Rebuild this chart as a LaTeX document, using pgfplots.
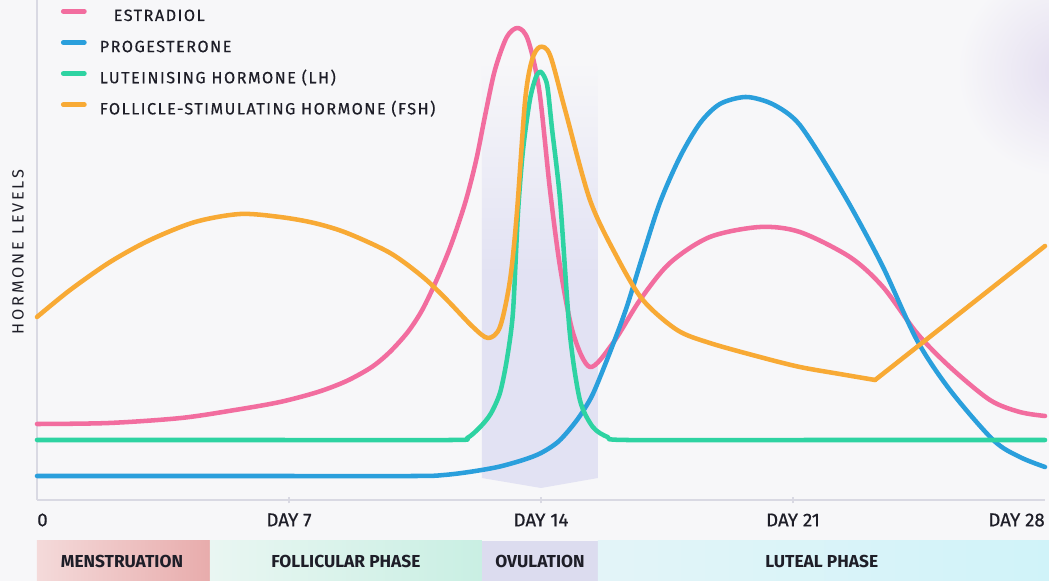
\documentclass[border=0pt]{standalone}
\usepackage{fontspec}
\setmainfont{Fira Sans}
\newfontfamily\spaced[LetterSpace=9, FakeBold=0.4]{Fira Sans}
\newfontfamily\spacedwide[LetterSpace=17]{Fira Sans}
\newfontfamily\medium[FakeBold=0.6]{Fira Sans}
\usepackage{pgfplots}
\pgfplotsset{compat=1.18}

% colours
\definecolor{bg}{HTML}{F7F7F9}
\definecolor{axisgray}{HTML}{D9D9E3}
\definecolor{ink}{HTML}{1E1E28}
\definecolor{estr}{HTML}{F26D9F}
\definecolor{prog}{HTML}{2A9FDC}
\definecolor{lh}{HTML}{2ED3A2}
\definecolor{fsh}{HTML}{F8AA35}
\definecolor{band}{HTML}{E2E2F3}
\definecolor{glow}{HTML}{E4DEF0}
\definecolor{mensA}{HTML}{F4DADA}
\definecolor{mensB}{HTML}{E8ACAC}
\definecolor{follA}{HTML}{E9F6F2}
\definecolor{follB}{HTML}{C9EFE3}
\definecolor{ovul}{HTML}{DCDCEF}
\definecolor{lutA}{HTML}{E3F4F8}
\definecolor{lutB}{HTML}{D0F3F9}

\begin{document}
\begin{tikzpicture}
% 1 px of the reference = 0.75pt; axis box is 1008 x 500 px
\fill[bg] (-27.75pt,-60.75pt) rectangle (759pt,375pt);
\begin{scope}
  \clip (-27.75pt,-60.75pt) rectangle (759pt,375pt);
  \shade[inner color=glow, outer color=bg] (770pt,322pt) circle (80pt);
\end{scope}

\begin{axis}[
    scale only axis,
    width=756pt, height=375pt,
    xmin=0, xmax=28, ymin=0, ymax=500,
    clip=false,
    axis x line=bottom, axis y line=left,
    axis line style={-, color=axisgray, line width=0.9pt},
    xtick={7,14,21}, xticklabels={},
    ytick=\empty,
    major tick length=5pt,
    tick style={color=axisgray, line width=0.9pt},
    legend style={at={(rel axis cs:0,1)}, anchor=north west,
        xshift=14.75pt, yshift=-4.5pt,
        draw=none, fill=none,
        font=\spaced\fontsize{12.2}{14}\selectfont\color{ink},
        nodes={inner sep=0pt, text height=8.5pt, text depth=0pt},
        row sep=14.3pt, column sep=9.75pt},
    legend cell align=left,
    legend image code/.code={\draw[line width=3.6pt] (0pt,3pt) -- (15.75pt,3pt);},
    every axis plot/.append style={line width=3.4pt, line cap=round, line join=round},
]

% ovulation band
\addplot[draw=none, top color=bg, bottom color=band, middle color=band, forget plot]
  coordinates {(12.36,440) (12.36,22) (14,12) (15.58,22) (15.58,440)} -- cycle;

% estradiol
\addplot[estr, smooth, tension=0.5] coordinates {
 (0,76) (2,77) (4,82) (5.5,90) (6.75,98) (7.8,108) (8.6,119) (9.3,133)
 (9.8,148) (10.3,168) (10.7,190) (11.1,220) (11.5,255) (11.9,298)
 (12.2,340) (12.45,385) (12.72,430) (13.05,463) (13.36,472) (13.64,460)
 (13.95,410) (14.25,310) (14.53,233) (14.89,167) (15.36,133) (16,157)
 (16.75,200) (17.58,237) (18.69,263) (20.08,273) (21.19,268) (22.58,243)
 (23.5,213) (24.44,167) (25.36,133) (26.47,100) (27.3,88) (28,84)};
\addlegendentry{\hspace{10.5pt}ESTRADIOL}

% progesterone
\addplot[prog, smooth, tension=0.5] coordinates {
 (0,24) (6,24) (10.5,24) (11.3,25) (12,28) (12.8,33) (13.5,40) (14,47)
 (14.5,59) (15,80) (15.4,103) (15.72,130) (16.1,165) (16.4,195) (16.83,245)
 (17.31,298) (17.86,343) (18.42,377) (18.97,396) (19.67,403) (20.3,398)
 (20.8,388) (21.19,375) (21.75,345) (22.58,295) (23.5,233) (24.44,160)
 (25.36,110) (26.56,60) (27.3,43) (28,33)};
\addlegendentry{PROGESTERONE}

% luteinising hormone
\addplot[lh, smooth, tension=0.45] coordinates {
 (0,60) (6,60) (11.5,60) (11.95,62) (12.31,73) (12.6,86) (12.86,107)
 (13.05,140) (13.22,187) (13.36,287) (13.5,350) (13.69,400) (13.86,423)
 (14,428) (14.17,415) (14.31,370) (14.53,300) (14.8,167) (15.08,100)
 (15.44,73) (15.85,63) (16.39,60) (22,60) (28,60)};
\addlegendentry{LUTEINISING HORMONE (LH)}

% follicle-stimulating hormone
\addplot[fsh, smooth, tension=0.5] coordinates {
 (0,183) (0.92,210) (2.03,238) (3.14,260) (4.39,278) (5.64,286) (6.75,283)
 (7.7,277) (8.61,267) (9.81,247) (10.72,223) (11.39,200) (12.11,173)
 (12.53,162) (12.86,173) (13.14,220) (13.33,287) (13.56,400) (13.75,440)
 (13.97,453) (14.25,445) (14.67,390) (15.36,300) (16.11,243) (16.83,200)
 (17.78,170) (18.69,157) (20.08,143) (21.19,133) (22.3,126) (23.28,120)};
\addlegendentry{FOLLICLE-STIMULATING HORMONE (FSH)}
\addplot[fsh, forget plot] coordinates {(23.28,120) (28,254)};

% phase strip
\fill[left color=mensA, right color=mensB] (axis cs:0,-41) rectangle (axis cs:4.8,-81);
\fill[left color=follA, right color=follB] (axis cs:4.8,-41) rectangle (axis cs:12.36,-81);
\fill[ovul] (axis cs:12.36,-41) rectangle (axis cs:15.58,-81);
\fill[left color=lutA, right color=lutB] (axis cs:15.58,-41) rectangle (axis cs:28.11,-81);

\begin{scope}[every node/.style={font=\bfseries\fontsize{13}{15}\selectfont, text=ink}]
\node at (axis cs:2.36,-61) {MENSTRUATION};
\node at (axis cs:8.58,-61) {FOLLICULAR PHASE};
\node at (axis cs:13.97,-61) {OVULATION};
\node at (axis cs:21.8,-61) {LUTEAL PHASE};
\end{scope}

% day labels
\begin{scope}[every node/.style={font=\medium\fontsize{14}{16}\selectfont, text=ink, inner sep=0pt}]
\node[anchor=west] at (axis cs:0,-20) {0};
\node at (axis cs:7,-20) {DAY 7};
\node at (axis cs:14,-20) {DAY 14};
\node at (axis cs:21,-20) {DAY 21};
\node[anchor=east] at (axis cs:28,-20) {DAY 28};
\end{scope}

\node[rotate=90, font=\spacedwide\fontsize{12.2}{14}\selectfont, text=ink] at (axis cs:-0.53,248) {HORMONE LEVELS};
\end{axis}
\pgfresetboundingbox
\path[use as bounding box] (-27.75pt,-60.75pt) rectangle (759pt,375pt);
\end{tikzpicture}
\end{document}
